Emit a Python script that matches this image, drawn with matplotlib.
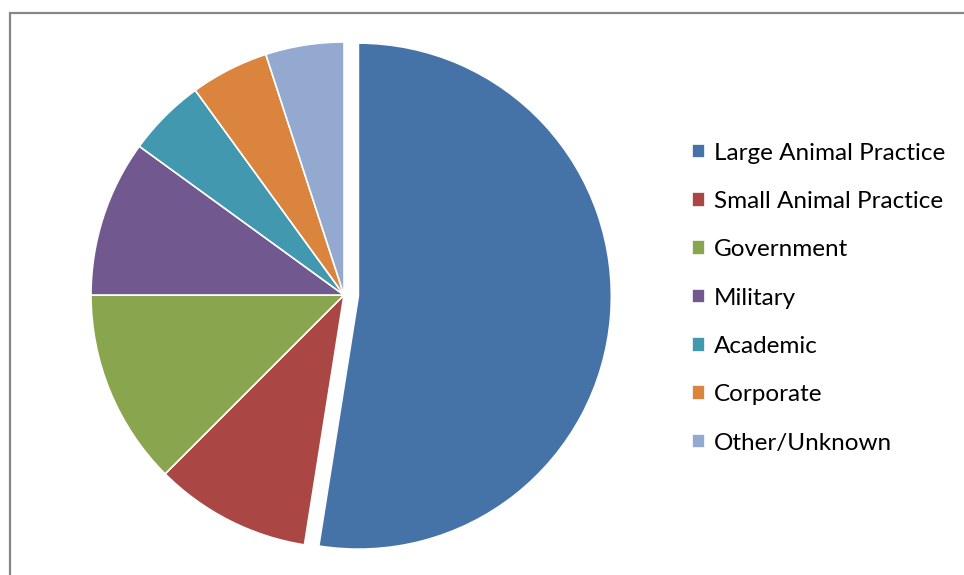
import matplotlib.pyplot as plt
from matplotlib.patches import Rectangle

## dados do grafico
categorias = ['Large Animal Practice', 'Small Animal Practice', 'Government',
              'Military', 'Academic', 'Corporate', 'Other/Unknown']
valores = [52.5, 10, 12.5, 10, 5, 5, 5]
cores = ['#4572A7', '#AA4643', '#89A54E', '#71588F', '#4198AF', '#DB843D', '#93A9CF']
explode = [0.057, 0, 0, 0, 0, 0, 0]

W, H = 964, 575
fig = plt.figure(figsize=(W / 100, H / 100), dpi=100)

## pizza: centro (344, 295) px, raio 253 px
cx, cy, r = 344, 295, 253
half = 270
ax = fig.add_axes([(cx - half) / W, (H - cy - half) / H, 2 * half / W, 2 * half / H])
wedges, _ = ax.pie(valores, colors=cores, explode=explode, startangle=90,
                   counterclock=False, radius=1,
                   wedgeprops=dict(edgecolor='white', linewidth=1.2))
lim = half / r
ax.set_xlim(-lim, lim)
ax.set_ylim(-lim, lim)
ax.set_aspect('equal')
ax.axis('off')

## legenda
fig.legend(wedges, categorias, loc='upper left',
           bbox_to_anchor=(692 / W, 1 - 142.5 / H), frameon=False,
           prop={'family': 'Lato', 'size': 17.5},
           handlelength=0.555, handleheight=0.555, handletextpad=0.33,
           labelspacing=1.125, borderaxespad=0, borderpad=0)

## borda cinza
fig.patches.append(Rectangle((9.5 / W, -0.05), 1.1, 1 - 12.5 / H + 0.05,
                             transform=fig.transFigure, fill=False,
                             edgecolor='#878787', linewidth=1.6, clip_on=False))

fig.savefig('out.png', dpi=100)
